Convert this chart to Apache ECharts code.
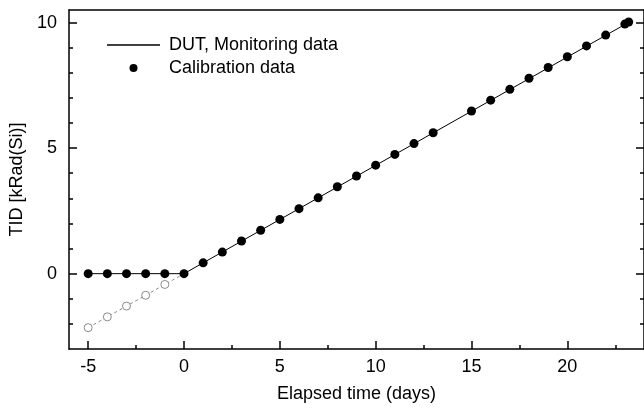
<!DOCTYPE html>
<html>
<head>
<meta charset="utf-8">
<script src="https://cdn.jsdelivr.net/npm/echarts@6/dist/echarts.min.js"></script>
<style>html,body{margin:0;padding:0;background:#fff;}#c{width:644px;height:409px;}</style>
</head>
<body>
<div id="c"></div>
<script>
// ---- data ----
var monitorX = [-5, 0, 23.3];
var monitorY = [0, 0, 10.05];
var calibX = [-5, -4, -3, -2, -1, 0, 1, 2, 3, 4, 5, 6, 7, 8, 9, 10, 11, 12, 13, 15, 16, 17, 18, 19, 20, 21, 22, 23, 23.2];
var calibY = [0, 0, 0, 0, 0, 0, 0.43, 0.86, 1.30, 1.73, 2.16, 2.59, 3.02, 3.46, 3.89, 4.32, 4.75, 5.18, 5.61, 6.48, 6.91, 7.34, 7.78, 8.21, 8.64, 9.07, 9.50, 9.94, 10.02];
var extrapX = [-5, -4, -3, -2, -1];
var extrapY = [-2.15, -1.72, -1.29, -0.86, -0.43];
var extrapLineX = [-5, 0];
var extrapLineY = [-2.15, 0];
var xMajor = [-5, 0, 5, 10, 15, 20];
var xMinor = [-2.5, 2.5, 7.5, 12.5, 17.5, 22.5];
var yMajor = [0, 5, 10];
var yMinor = [-2, -1, 1, 2, 3, 4, 6, 7, 8, 9];

function pairs(xs, ys) { return xs.map(function (x, i) { return [x, ys[i]]; }); }

var FONT = 'Liberation Sans, Arial, sans-serif';
var AX = { color: '#000', width: 1.5 };

function xAx(opts) {
  return Object.assign({
    type: 'value', gridIndex: 0, min: -6, max: 24, position: 'bottom',
    splitLine: { show: false },
    axisLine: { show: false, onZero: false, lineStyle: AX },
    axisTick: { show: false },
    axisLabel: { show: false }
  }, opts);
}
function yAx(opts) {
  return Object.assign({
    type: 'value', gridIndex: 0, min: -3, max: 10.5, position: 'left',
    splitLine: { show: false },
    axisLine: { show: false, onZero: false, lineStyle: AX },
    axisTick: { show: false },
    axisLabel: { show: false }
  }, opts);
}

var chart = echarts.init(document.getElementById('c'), null, { renderer: 'canvas' });
chart.setOption({
  animation: false,
  backgroundColor: '#fff',
  textStyle: { fontFamily: FONT },
  grid: { left: 69, top: 10, width: 576, height: 339, containLabel: false },
  legend: {
    show: true,
    orient: 'vertical',
    left: 102, top: 31,
    itemWidth: 53, itemHeight: 8, itemGap: 5,
    textStyle: { fontFamily: FONT, fontSize: 18, color: '#000', padding: [0, 0, 0, 4] },
    data: [
      { name: 'DUT, Monitoring data', icon: 'path://M0,0L53,0L53,1.3L0,1.3Z' },
      { name: 'Calibration data', icon: 'circle' }
    ]
  },
  xAxis: [
    xAx({
      axisLine: { show: true, onZero: false, lineStyle: AX },
      axisTick: { show: true, inside: true, length: 8, lineStyle: AX, customValues: xMajor },
      axisLabel: { show: true, margin: 9, fontSize: 18, color: '#000', fontFamily: FONT, customValues: xMajor },
      name: 'Elapsed time (days)', nameLocation: 'middle', nameGap: 36,
      nameTextStyle: { fontSize: 18, color: '#000', fontFamily: FONT }
    }),
    xAx({
      axisTick: { show: true, inside: true, length: 4, lineStyle: AX, customValues: xMinor }
    }),
    xAx({
      position: 'top',
      axisLine: { show: true, onZero: false, lineStyle: AX }
    })
  ],
  yAxis: [
    yAx({
      axisLine: { show: true, onZero: false, lineStyle: AX },
      axisTick: { show: true, inside: true, length: 8, lineStyle: AX, customValues: yMajor },
      axisLabel: { show: true, margin: 12, fontSize: 18, color: '#000', fontFamily: FONT, customValues: yMajor },
      name: 'TID [kRad(Si)]', nameLocation: 'middle', nameGap: 42, nameRotate: 90,
      nameTextStyle: { fontSize: 18, color: '#000', fontFamily: FONT }
    }),
    yAx({
      axisTick: { show: true, inside: true, length: 4, lineStyle: AX, customValues: yMinor }
    }),
    yAx({
      position: 'right',
      axisLine: { show: true, onZero: false, lineStyle: AX },
      axisTick: { show: true, inside: true, length: 8, lineStyle: AX, customValues: yMajor }
    }),
    yAx({
      position: 'right',
      axisTick: { show: true, inside: true, length: 4, lineStyle: AX, customValues: yMinor }
    })
  ],
  series: [
    {
      name: 'extrapolation', type: 'line', xAxisIndex: 0, yAxisIndex: 0,
      data: pairs(extrapLineX, extrapLineY), symbol: 'none', silent: true,
      lineStyle: { color: '#8a8a8a', width: 1, type: [3, 3] }, z: 1
    },
    {
      name: 'extrapolated points', type: 'scatter', xAxisIndex: 0, yAxisIndex: 0,
      data: pairs(extrapX, extrapY), symbol: 'circle', symbolSize: 8,
      itemStyle: { color: '#fff', borderColor: '#8a8a8a', borderWidth: 1, opacity: 1 }, z: 2
    },
    {
      name: 'DUT, Monitoring data', type: 'line', xAxisIndex: 0, yAxisIndex: 0,
      data: pairs(monitorX, monitorY), symbol: 'none', showSymbol: false,
      lineStyle: { color: '#000', width: 1 }, itemStyle: { color: '#000' }, z: 3
    },
    {
      name: 'Calibration data', type: 'scatter', xAxisIndex: 0, yAxisIndex: 0,
      data: pairs(calibX, calibY), symbol: 'circle', symbolSize: 9,
      itemStyle: { color: '#000', opacity: 1 }, z: 4
    }
  ]
});
</script>
</body>
</html>
